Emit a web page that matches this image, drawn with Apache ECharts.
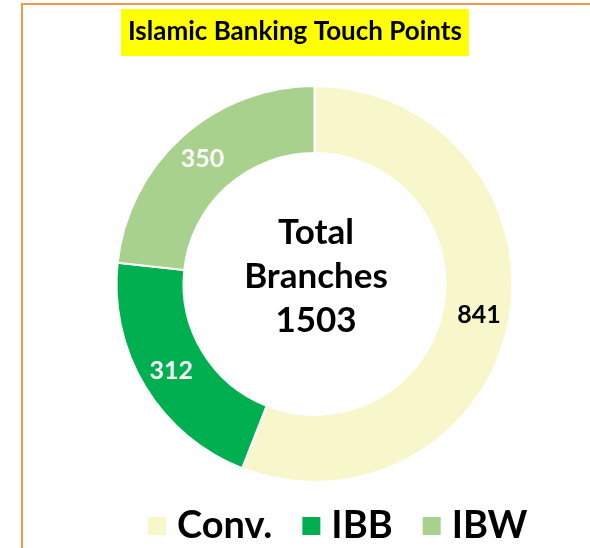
<!DOCTYPE html>
<html>
  <head>
    <meta charset="utf-8">
    <title>Islamic Banking Touch Points</title>
    <style>
      html, body { margin: 0; padding: 0; background: #fff; }
      #chart { width: 590px; height: 548px; }
    </style>
  </head>
  <body>
    <div id="chart"></div>
    <script src="https://cdn.jsdelivr.net/npm/echarts@6/dist/echarts.min.js"></script>
    <script>
      // Data
      var categories = ['Conv.', 'IBB', 'IBW'];
      var branches = [841, 312, 350];
      var colors = ['#F7F7CB', '#00B050', '#A9D18E'];
      var labelColors = ['#000000', '#ffffff', '#ffffff'];
      var total = branches.reduce(function(a, b) { return a + b; }, 0);

      var FONT = 'Lato, "Open Sans", sans-serif';
      var chart = echarts.init(document.getElementById('chart'));

      var data = categories.map(function(name, i) {
        return {
          name: name,
          value: branches[i],
          itemStyle: { color: colors[i] },
          label: { color: labelColors[i] }
        };
      });

      chart.setOption({
        animation: false,
        title: {
          text: 'Islamic Banking Touch Points',
          left: 121,
          top: 9,
          backgroundColor: '#FFFF00',
          padding: [10, 7, 11, 7],
          textStyle: {
            fontFamily: FONT,
            fontWeight: 'bold',
            fontSize: 26,
            color: '#000'
          }
        },
        legend: {
          data: categories,
          left: 141,
          top: 502,
          icon: 'rect',
          itemWidth: 20,
          itemHeight: 20,
          itemGap: 28,
          textStyle: {
            fontFamily: FONT,
            fontWeight: 'bold',
            fontSize: 38,
            color: '#000',
            padding: [0, 0, 0, 5]
          }
        },
        graphic: [
          {
            type: 'line',
            shape: { x1: 21, y1: 4, x2: 590, y2: 4 },
            style: { stroke: '#F79646', lineWidth: 2 }
          },
          {
            type: 'line',
            shape: { x1: 22, y1: 4, x2: 22, y2: 548 },
            style: { stroke: '#F79646', lineWidth: 2 }
          },
          {
            type: 'text',
            x: 316,
            y: 277,
            style: {
              text: 'Total\nBranches\n' + total,
              textAlign: 'center',
              textVerticalAlign: 'middle',
              fontFamily: FONT,
              fontWeight: 'bold',
              fontSize: 35,
              lineHeight: 44,
              fill: '#000'
            }
          }
        ],
        series: [
          {
            type: 'pie',
            center: [314.5, 284],
            radius: [131, 198],
            startAngle: 90,
            clockwise: true,
            avoidLabelOverlap: false,
            itemStyle: { borderColor: '#fff', borderWidth: 2 },
            label: {
              show: true,
              position: 'inside',
              formatter: '{c}',
              fontFamily: FONT,
              fontWeight: 'bold',
              fontSize: 25
            },
            labelLine: { show: false },
            emphasis: { disabled: true },
            data: data
          }
        ]
      });
    </script>
  </body>
</html>
